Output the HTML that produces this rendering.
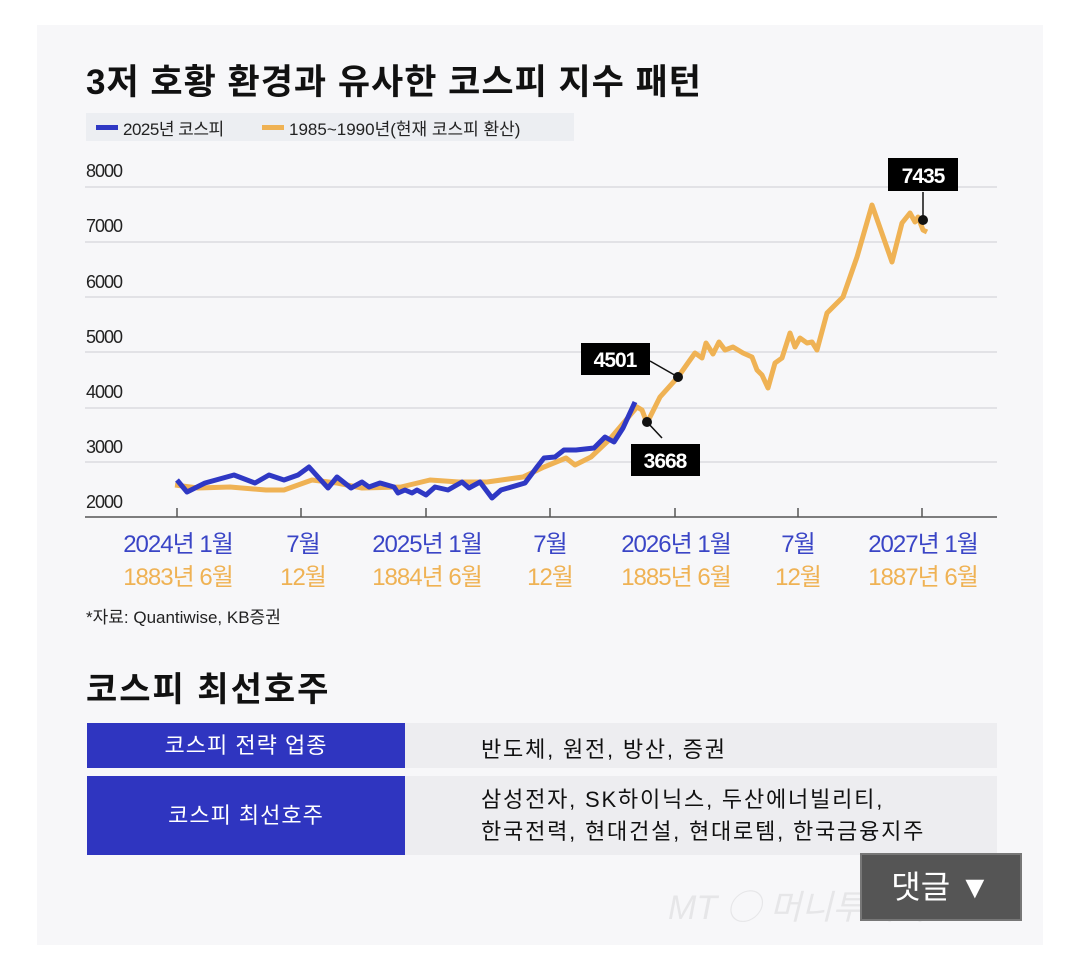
<!DOCTYPE html>
<html><head><meta charset="utf-8"><style>
body{margin:0;width:1080px;height:958px;background:#fff;font-family:"Liberation Sans","Noto Sans CJK KR",sans-serif;position:relative;overflow:hidden}
.a{position:absolute;white-space:nowrap}
</style></head><body>
<div class="a" style="left:37px;top:25px;width:1006px;height:920px;background:#f7f7f9"></div>
<div class="a" style="left:86px;top:54px;font-size:35px;font-weight:bold;color:#111;letter-spacing:1px">3저 호황 환경과 유사한 코스피 지수 패턴</div>
<div class="a" style="left:86px;top:113px;width:488px;height:28px;background:#eceef2"></div>
<div class="a" style="left:96px;top:125px;width:22px;height:5px;background:#2f38c4"></div>
<div class="a" style="left:123px;top:115px;font-size:17px;color:#222;letter-spacing:-0.5px">2025년 코스피</div>
<div class="a" style="left:262px;top:125px;width:22px;height:5px;background:#efb254"></div>
<div class="a" style="left:289px;top:115px;font-size:17px;color:#222;letter-spacing:0px">1985~1990년(현재 코스피 환산)</div>
<svg class="a" style="left:0;top:0" width="1080" height="958">
<g stroke="#dcdce0" stroke-width="1.5">
<line x1="85" x2="997" y1="187" y2="187"/><line x1="85" x2="997" y1="242" y2="242"/><line x1="85" x2="997" y1="297" y2="297"/><line x1="85" x2="997" y1="352" y2="352"/><line x1="85" x2="997" y1="408" y2="408"/><line x1="85" x2="997" y1="462" y2="462"/>
</g>
<line x1="85" x2="997" y1="517" y2="517" stroke="#555" stroke-width="1.5"/>
<g stroke="#555" stroke-width="1.5"><line x1="177" x2="177" y1="508" y2="517"/><line x1="301" x2="301" y1="508" y2="517"/><line x1="426" x2="426" y1="508" y2="517"/><line x1="550" x2="550" y1="508" y2="517"/><line x1="675" x2="675" y1="508" y2="517"/><line x1="798" x2="798" y1="508" y2="517"/><line x1="922" x2="922" y1="508" y2="517"/></g>
<g font-size="18" fill="#222" letter-spacing="-1"><text x="86" y="177">8000</text><text x="86" y="232">7000</text><text x="86" y="288">6000</text><text x="86" y="343">5000</text><text x="86" y="398">4000</text><text x="86" y="453">3000</text><text x="86" y="508">2000</text></g>
<polyline fill="none" stroke="#efb254" stroke-width="5" stroke-linejoin="round" points="175,485 198,488 230,487 266,490 284,490 312,480 337,483 362,488 401,487 430,480 459,482 487,482 523,477 544,467 566,458 575,465 591,457 609,440 626,420 637,407 642,410 647,423 660,397 678,377 690,360 695,353 702,358 706,343 713,354 719,342 725,350 733,347 743,353 752,357 757,370 762,375 768,388 775,363 782,358 790,333 795,347 800,338 807,343 812,342 817,350 827,313 843,297 857,257 872,205 892,262 902,223 910,213 915,222 918,217 923,230 927,232"/>
<polyline fill="none" stroke="#2f38c4" stroke-width="5" stroke-linejoin="round" points="177,480 187,492 205,483 234,475 255,483 269,475 284,480 298,475 309,467 328,488 337,477 351,488 362,482 369,487 380,483 394,487 398,493 405,490 412,493 417,490 426,495 435,487 448,490 462,482 469,488 480,482 492,498 501,490 525,483 537,467 544,458 555,457 564,450 576,450 594,448 605,437 614,442 623,428 635,402"/>
<g stroke="#111" stroke-width="1.5"><line x1="647" y1="422" x2="662" y2="438"/><line x1="678" y1="377" x2="650" y2="361"/><line x1="923" y1="220" x2="923" y2="192"/></g>
<circle cx="647" cy="422" r="5" fill="#111"/><circle cx="678" cy="377" r="5" fill="#111"/><circle cx="923" cy="220" r="5" fill="#111"/>
<rect x="581" y="343" width="69" height="32" fill="#000"/><text x="615" y="367" fill="#fff" font-size="21" font-weight="bold" text-anchor="middle" letter-spacing="-1">4501</text>
<rect x="631" y="444" width="69" height="32" fill="#000"/><text x="665" y="468" fill="#fff" font-size="21" font-weight="bold" text-anchor="middle" letter-spacing="-1">3668</text>
<rect x="888" y="158" width="70" height="33" fill="#000"/><text x="923" y="183" fill="#fff" font-size="21" font-weight="bold" text-anchor="middle" letter-spacing="-1">7435</text>
<g font-size="24" text-anchor="middle" letter-spacing="-1" fill="#3a45c6"><text x="178" y="552">2024년 1월</text><text x="303" y="552">7월</text><text x="427" y="552">2025년 1월</text><text x="550" y="552">7월</text><text x="676" y="552">2026년 1월</text><text x="798" y="552">7월</text><text x="923" y="552">2027년 1월</text></g>
<g font-size="24" text-anchor="middle" letter-spacing="-1" fill="#efb254"><text x="178" y="585">1883년 6월</text><text x="303" y="585">12월</text><text x="427" y="585">1884년 6월</text><text x="550" y="585">12월</text><text x="676" y="585">1885년 6월</text><text x="798" y="585">12월</text><text x="923" y="585">1887년 6월</text></g>
</svg>
<div class="a" style="left:86px;top:603px;font-size:17px;color:#222;letter-spacing:0px">*자료: Quantiwise, KB증권</div>
<div class="a" style="left:86px;top:662px;font-size:34px;font-weight:bold;color:#111;letter-spacing:2px">코스피 최선호주</div>
<div class="a" style="left:87px;top:723px;width:318px;height:45px;background:#2f35c0;color:#fff;font-size:22px;line-height:45px;text-align:center;letter-spacing:1px">코스피 전략 업종</div>
<div class="a" style="left:405px;top:723px;width:592px;height:45px;background:#ededf0"></div>
<div class="a" style="left:481px;top:732px;font-size:22px;color:#111;letter-spacing:1.8px">반도체, 원전, 방산, 증권</div>
<div class="a" style="left:87px;top:776px;width:318px;height:79px;background:#2f35c0;color:#fff;font-size:22px;line-height:79px;text-align:center;letter-spacing:1px">코스피 최선호주</div>
<div class="a" style="left:405px;top:776px;width:592px;height:79px;background:#ededf0"></div>
<div class="a" style="left:481px;top:784px;font-size:22px;line-height:32px;color:#111;letter-spacing:1.8px">삼성전자, SK하이닉스, 두산에너빌리티,<br>한국전력, 현대건설, 현대로템, 한국금융지주</div>
<div class="a" style="left:668px;top:880px;font-size:34px;color:#e6e6e8;font-style:italic">MT ◯ 머니투데이</div>
<div class="a" style="left:860px;top:853px;width:158px;height:64px;background:#555;border:2px solid #777;color:#fff;font-size:32px;line-height:64px;text-align:center">댓글 ▼</div>
</body></html>
